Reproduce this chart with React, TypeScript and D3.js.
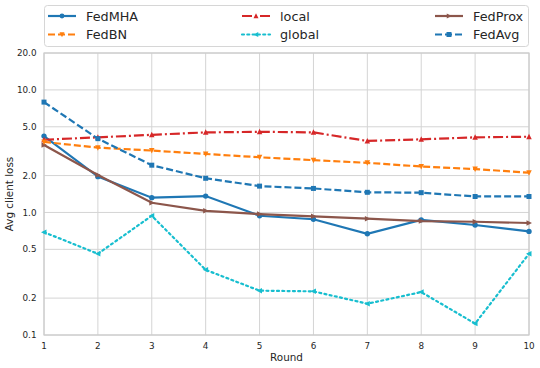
import React, { useEffect, useRef } from 'react';
import * as d3 from 'd3';

const rounds = [1, 2, 3, 4, 5, 6, 7, 8, 9, 10];
const fedMHA = [4.2, 1.96, 1.32, 1.36, 0.94, 0.88, 0.67, 0.87, 0.79, 0.7];
const local = [3.92, 4.1, 4.3, 4.5, 4.55, 4.5, 3.83, 3.95, 4.1, 4.15];
const fedProx = [3.55, 2.02, 1.2, 1.03, 0.97, 0.93, 0.89, 0.85, 0.84, 0.82];
const fedBN = [3.76, 3.38, 3.2, 3.0, 2.82, 2.67, 2.54, 2.37, 2.26, 2.11];
const global = [0.69, 0.46, 0.94, 0.34, 0.23, 0.227, 0.18, 0.224, 0.124, 0.46];
const fedAvg = [7.95, 4.0, 2.43, 1.9, 1.64, 1.57, 1.46, 1.45, 1.35, 1.35];

const yTicks = [0.1, 0.2, 0.5, 1, 2, 5, 10, 20];

type Series = { name: string; values: number[]; color: string; dash: string; marker: string };

// legend order is column-wise: FedMHA, FedBN | local, global | FedProx, FedAvg
const series: Series[] = [
  { name: 'FedMHA', values: fedMHA, color: '#1f77b4', dash: '', marker: 'circle' },
  { name: 'FedBN', values: fedBN, color: '#ff7f0e', dash: '7,3', marker: 'down' },
  { name: 'local', values: local, color: '#d62728', dash: '10,3,2,3', marker: 'up' },
  { name: 'global', values: global, color: '#17becf', dash: '2,3.3', marker: 'left' },
  { name: 'FedProx', values: fedProx, color: '#8c564b', dash: '', marker: 'right' },
  { name: 'FedAvg', values: fedAvg, color: '#1f77b4', dash: '7,3', marker: 'square' },
];

// draw order (legend aside)
const drawOrder = ['FedMHA', 'local', 'FedProx', 'FedBN', 'global', 'FedAvg'];

const W = 540;
const H = 368;
const margin = { top: 53, right: 11, bottom: 33, left: 44 };

function markerPath(kind: string, s: number) {
  const h = s / 2;
  switch (kind) {
    case 'circle':
      return d3.symbol(d3.symbolCircle, s * s * 0.75)()!;
    case 'square':
      return `M${-h},${-h}H${h}V${h}H${-h}Z`;
    case 'up':
      return `M0,${-h * 1.1}L${h},${h * 0.9}L${-h},${h * 0.9}Z`;
    case 'down':
      return `M0,${h * 1.1}L${h},${-h * 0.9}L${-h},${-h * 0.9}Z`;
    case 'left':
      return `M${-h * 1.1},0L${h * 0.9},${-h}L${h * 0.9},${h}Z`;
    default:
      return `M${h * 1.1},0L${-h * 0.9},${-h}L${-h * 0.9},${h}Z`;
  }
}

const App = () => {
  const svgRef = useRef<SVGSVGElement>(null);

  useEffect(() => {
    const svg = d3.select(svgRef.current);
    svg.selectAll('*').remove();

    const x = d3.scaleLinear().domain([1, 10]).range([margin.left, W - margin.right]);
    const y = d3.scaleLog().domain([0.1, 20]).range([H - margin.bottom, margin.top]);

    const font = 'DejaVu Sans, sans-serif';
    const grid = '#d4d4d4';

    // grid
    svg.append('g')
      .selectAll('line')
      .data(rounds)
      .enter()
      .append('line')
      .attr('x1', d => x(d))
      .attr('x2', d => x(d))
      .attr('y1', margin.top)
      .attr('y2', H - margin.bottom)
      .attr('stroke', grid)
      .attr('stroke-width', 1);

    svg.append('g')
      .selectAll('line')
      .data(yTicks)
      .enter()
      .append('line')
      .attr('x1', margin.left)
      .attr('x2', W - margin.right)
      .attr('y1', d => y(d))
      .attr('y2', d => y(d))
      .attr('stroke', grid)
      .attr('stroke-width', 1);

    // frame
    svg.append('rect')
      .attr('x', margin.left)
      .attr('y', margin.top)
      .attr('width', W - margin.left - margin.right)
      .attr('height', H - margin.top - margin.bottom)
      .attr('fill', 'none')
      .attr('stroke', '#cccccc')
      .attr('stroke-width', 1.2);

    // tick labels
    svg.append('g')
      .selectAll('text')
      .data(yTicks)
      .enter()
      .append('text')
      .attr('x', 36.5)
      .attr('y', d => y(d))
      .attr('dy', '0.35em')
      .attr('text-anchor', 'end')
      .attr('font-family', font)
      .attr('font-size', 8.8)
      .attr('fill', '#262626')
      .text(d => d.toFixed(1));

    svg.append('g')
      .selectAll('text')
      .data(rounds)
      .enter()
      .append('text')
      .attr('x', d => x(d))
      .attr('y', 349)
      .attr('text-anchor', 'middle')
      .attr('font-family', font)
      .attr('font-size', 8.8)
      .attr('fill', '#262626')
      .text(d => String(d));

    svg.append('text')
      .attr('x', (margin.left + W - margin.right) / 2)
      .attr('y', 361)
      .attr('text-anchor', 'middle')
      .attr('font-family', font)
      .attr('font-size', 10.4)
      .attr('fill', '#262626')
      .text('Round');

    svg.append('text')
      .attr('transform', `translate(13,${(margin.top + H - margin.bottom) / 2}) rotate(-90)`)
      .attr('text-anchor', 'middle')
      .attr('font-family', font)
      .attr('font-size', 10.4)
      .attr('fill', '#262626')
      .text('Avg client loss');

    // lines
    const line = d3.line<number>()
      .x((_, i) => x(rounds[i]))
      .y(d => y(d));

    const ordered = drawOrder.map(n => series.find(s => s.name === n)!);
    ordered.forEach(s => {
      const g = svg.append('g');
      g.append('path')
        .datum(s.values)
        .attr('d', line)
        .attr('fill', 'none')
        .attr('stroke', s.color)
        .attr('stroke-width', 2.2)
        .attr('stroke-dasharray', s.dash || null)
        .attr('stroke-linecap', s.name === 'global' ? 'round' : 'butt');
      g.selectAll('path.m')
        .data(s.values)
        .enter()
        .append('path')
        .attr('class', 'm')
        .attr('d', markerPath(s.marker, s.marker === 'square' ? 5 : 5.5))
        .attr('transform', (d, i) => `translate(${x(rounds[i])},${y(d)})`)
        .attr('fill', s.color);
    });

    // legend
    const lg = svg.append('g');
    lg.append('rect')
      .attr('x', 44.5)
      .attr('y', 5.5)
      .attr('width', 484)
      .attr('height', 41)
      .attr('rx', 3)
      .attr('fill', 'white')
      .attr('stroke', '#d6d6d6')
      .attr('stroke-width', 1);

    const colX = [48, 242, 435];
    const rowY = [16, 34.5];
    series.forEach((s, i) => {
      const cx = colX[Math.floor(i / 2)];
      const cy = rowY[i % 2];
      const item = lg.append('g').attr('transform', `translate(${cx},${cy})`);
      item.append('line')
        .attr('x1', 0)
        .attr('x2', 28)
        .attr('y1', 0)
        .attr('y2', 0)
        .attr('stroke', s.color)
        .attr('stroke-width', 2.2)
        .attr('stroke-dasharray', s.dash || null)
        .attr('stroke-linecap', s.name === 'global' ? 'round' : 'butt');
      item.append('path')
        .attr('d', markerPath(s.marker, 5))
        .attr('transform', 'translate(14,0)')
        .attr('fill', s.color);
      item.append('text')
        .attr('x', 38)
        .attr('y', 0)
        .attr('dy', '0.36em')
        .attr('font-family', font)
        .attr('font-size', 12.8)
        .attr('fill', '#262626')
        .text(s.name);
    });
  }, []);

  return (
    <svg
      ref={svgRef}
      width={W}
      height={H}
      style={{ position: 'absolute', left: 0, top: 0, background: 'white' }}
    />
  );
};

export default App;
